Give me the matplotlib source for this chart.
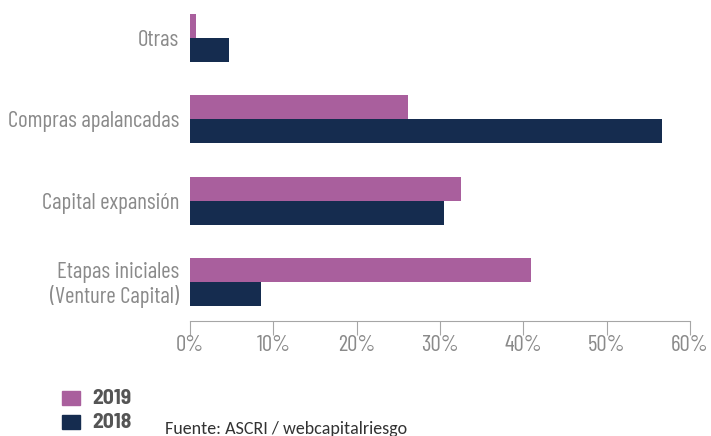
import matplotlib
matplotlib.use("Agg")
import matplotlib.pyplot as plt
from matplotlib.patches import Rectangle
import numpy as np

categorias = ["Etapas iniciales\n(Venture Capital)", "Capital expansión",
              "Compras apalancadas", "Otras"]
valores_2019 = [40.9, 32.5, 26.2, 0.7]
valores_2018 = [8.5, 30.5, 56.6, 4.7]
series = ["2019", "2018"]
ticks = [0, 10, 20, 30, 40, 50, 60]
tick_labels = ["0%", "10%", "20%", "30%", "40%", "50%", "60%"]

col_2019 = "#A95F9D"
col_2018 = "#152C4F"
gris = "#8A8A8A"
cond = "Barlow Condensed"

W, H = 711, 436
fig = plt.figure(figsize=(W / 100, H / 100), dpi=100)
ax = fig.add_axes([190 / W, 1 - 321 / H, 500 / W, 321 / H])

y = np.arange(len(categorias))
h = 0.295
ax.barh(y + h / 2, valores_2019, h, color=col_2019)
ax.barh(y - h / 2, valores_2018, h, color=col_2018)

ax.set_xlim(0, 60)
ax.set_ylim(-0.48, 3.47)
ax.set_xticks(ticks)
ax.set_xticklabels(tick_labels, fontfamily=cond, fontweight="normal", fontsize=16.5, color=gris)
ax.set_yticks(y)
ax.set_yticklabels(categorias, fontfamily=cond, fontweight="normal", fontsize=16.5, color=gris,
                   linespacing=1.1)
ax.tick_params(axis="x", direction="out", length=10, color="#A6A6A6", pad=0)
ax.tick_params(axis="y", length=0, pad=8)
for s in ["top", "right", "left"]:
    ax.spines[s].set_visible(False)
ax.spines["bottom"].set_color("#A6A6A6")

# leyenda manual
for i, (nombre, col) in enumerate(zip(series, [col_2019, col_2018])):
    yc = 398 + 24 * i
    fig.patches.append(Rectangle((62 / W, 1 - (yc + 7) / H), 18 / W, 14 / H,
                                 transform=fig.transFigure, color=col))
    fig.text(92 / W, 1 - yc / H, nombre, fontfamily=["Barlow Semi Condensed", cond],
             fontweight="bold", fontsize=15.5, color="#555555", va="center")

fig.text(165 / W, 1 - 429 / H, "Fuente: ASCRI / webcapitalriesgo",
         fontsize=13, color="#333333", family=["Carlito", "Open Sans"], va="center")

fig.savefig("out.png", dpi=100)
